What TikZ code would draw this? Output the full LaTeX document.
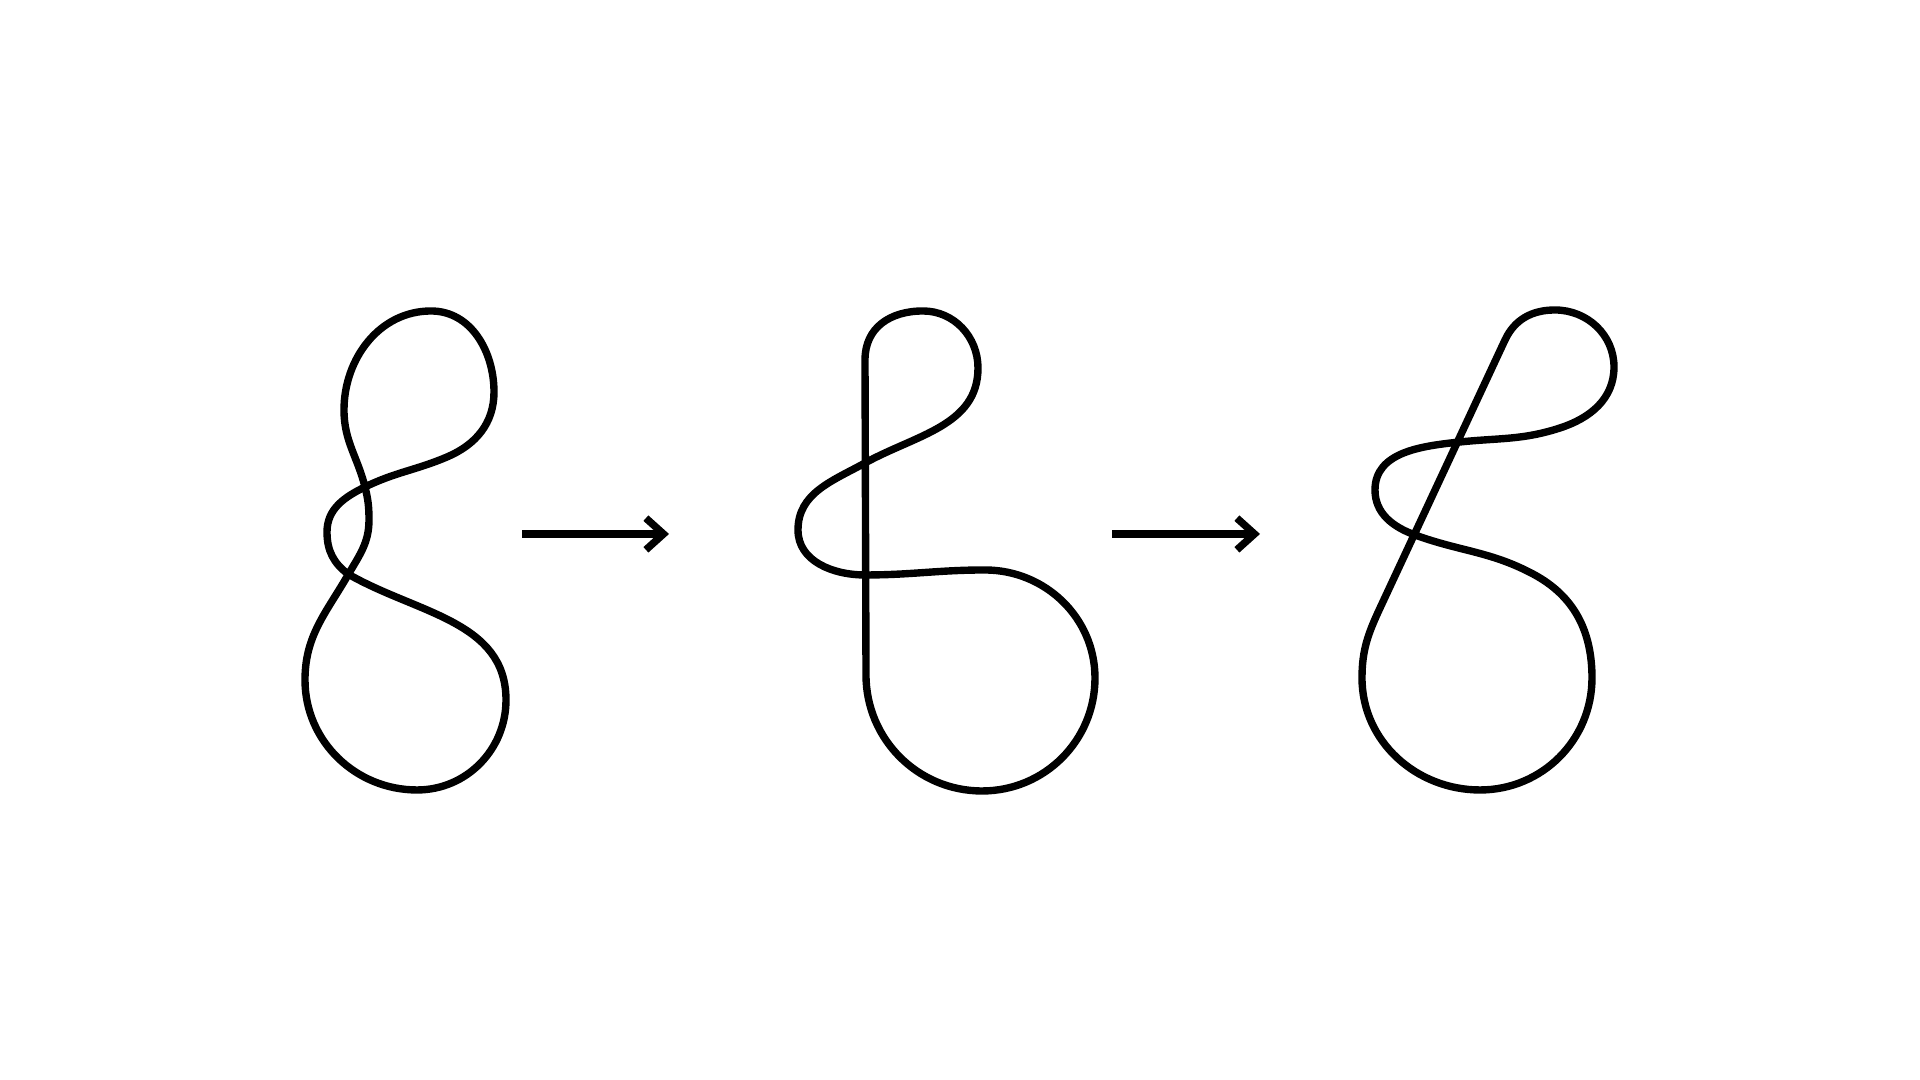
\documentclass[tikz,border=0pt]{standalone}
\usetikzlibrary{arrows.meta}
\begin{document}
\begin{tikzpicture}[x=0.01cm,y=0.01cm,
    knot/.style={line width=2.1pt, line join=round},
    move/.style={line width=2.1pt, -{Straight Barb[length=5pt,width=9pt]}}]
    \useasboundingbox (0,0) rectangle (1920,1080);
    % first diagram
    \draw[knot] (431,769) to[out=0,in=90] (494,688) to[out=270,in=23] (447,623)
        to[out=203,in=26] (365,593) to[out=206,in=90] (327,548)
        to[out=270,in=143] (348,506) to[out=330,in=90] (506,380)
        to[out=270,in=0] (417,290) to[out=180,in=270] (305,400)
        to[out=90,in=240] (348,505) to[out=60,in=270] (369,560)
        to[out=90,in=284] (365,593) to[out=104,in=270] (344,670)
        to[out=90,in=180] cycle;
    % second diagram
    \draw[knot] (866,405) -- (865,720) to[out=90,in=180,looseness=1.1] (923,769)
        to[out=0,in=90] (978,712) to[out=270,in=29] (865,617)
        to[out=209,in=90] (798,550) to[out=270,in=180] (865,505)
        to[out=0,in=180] (985,510) to[out=0,in=90] (1095,402)
        to[out=270,in=0] (982,289) to[out=180,in=270] cycle;
    % third diagram
    \draw[knot] (1380.5,473) -- (1505,740) to[out=65,in=180] (1555,770)
        to[out=0,in=90] (1614,713) to[out=270,in=18] (1560,652)
        to[out=198,in=6] (1460,638) to[out=186,in=90] (1375,590)
        to[out=270,in=160] (1415,545) to[out=340,in=152] (1533,506)
        to[out=332,in=90] (1592,402) to[out=270,in=0] (1480,290)
        to[out=180,in=270] (1362,402) to[out=90,in=245] cycle;
    % arrows
    \coordinate (a1) at (522,546);
    \coordinate (b1) at (669,546);
    \coordinate (a2) at (1112,546);
    \coordinate (b2) at (1260,546);
    \draw[move] (a1) -- (b1);
    \draw[move] (a2) -- (b2);
\end{tikzpicture}
\end{document}
